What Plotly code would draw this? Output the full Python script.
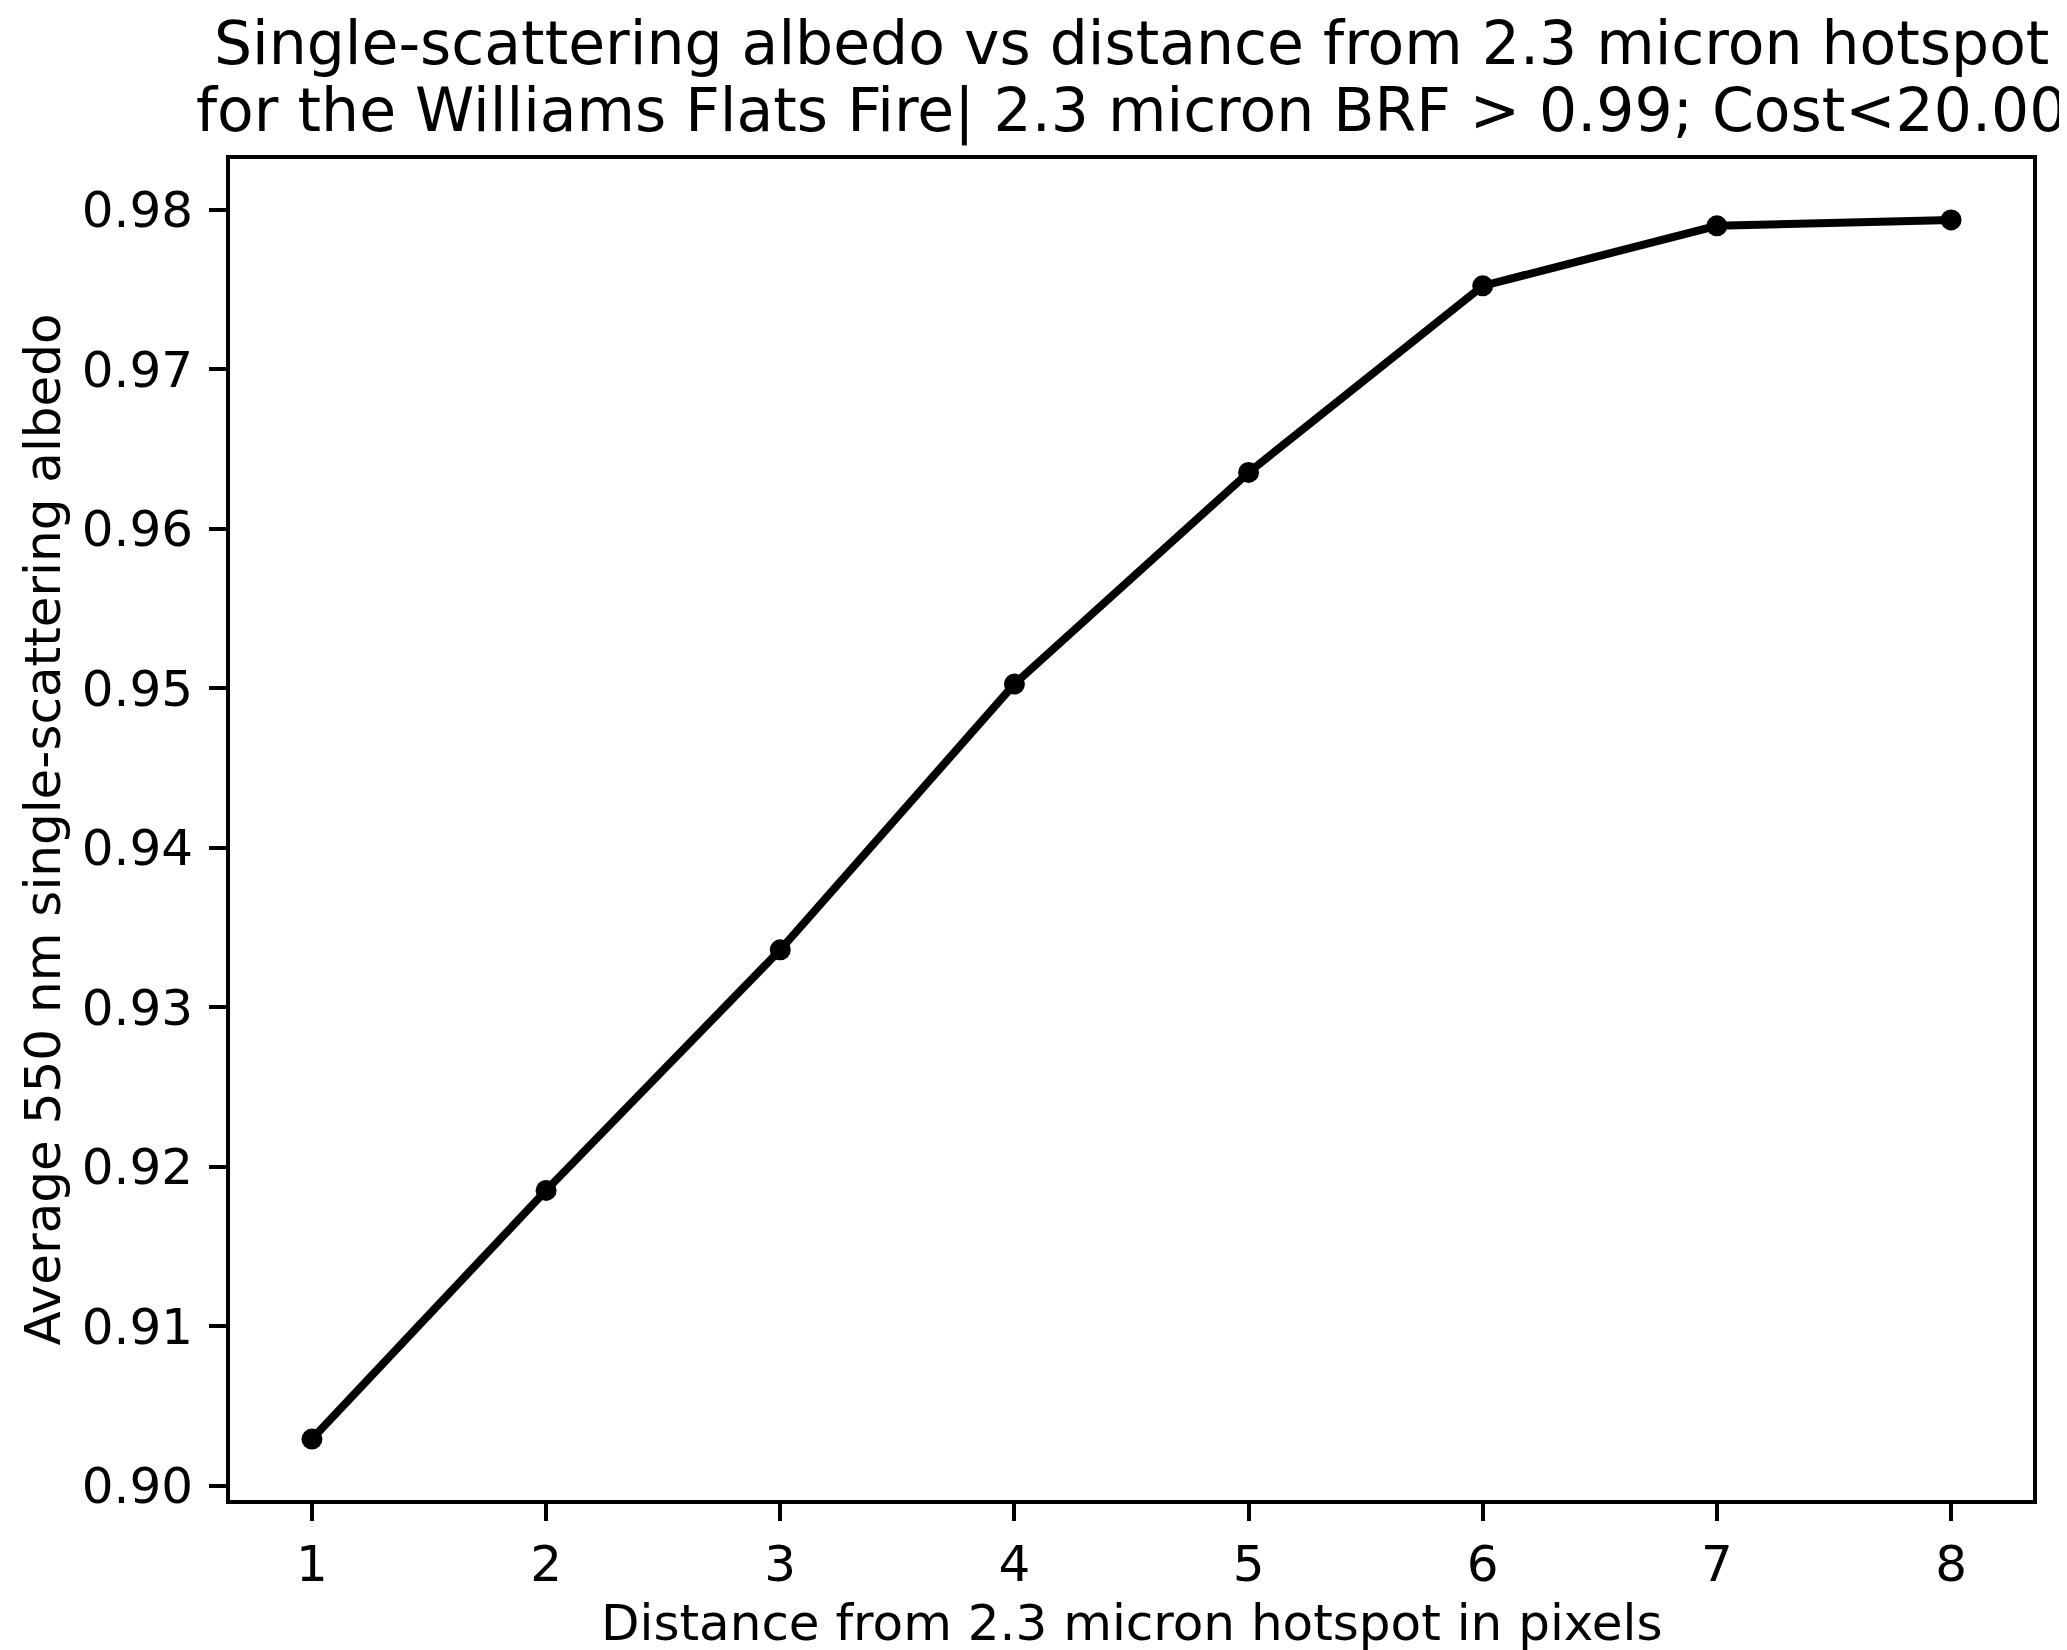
import plotly.graph_objects as go

# Data
distance_px = [1, 2, 3, 4, 5, 6, 7, 8]
avg_ssa_550 = [0.90294, 0.91853, 0.93361, 0.95027, 0.96354, 0.97524, 0.97900, 0.97937]

title_line1 = "Single-scattering albedo vs distance from 2.3 micron hotspot"
title_line2 = "for the Williams Flats Fire| 2.3 micron BRF &gt; 0.99; Cost&lt;20.00"
x_label = "Distance from 2.3 micron hotspot in pixels"
y_label = "Average 550 nm single-scattering albedo"

FONT = "DejaVu Sans"

# matplotlib-like 5% margins
xr = max(distance_px) - min(distance_px)
yr = max(avg_ssa_550) - min(avg_ssa_550)
x_range = [min(distance_px) - 0.05 * xr, max(distance_px) + 0.05 * xr]
y_range = [min(avg_ssa_550) - 0.05 * yr, max(avg_ssa_550) + 0.05 * yr]

fig = go.Figure()
fig.add_trace(go.Scatter(
    x=distance_px, y=avg_ssa_550, mode="lines+markers",
    line=dict(color="black", width=8),
    marker=dict(color="black", size=21),
    showlegend=False, hoverinfo="skip",
))

axis_common = dict(
    showline=True, linecolor="black", linewidth=4, mirror=True,
    ticks="outside", ticklen=17, tickwidth=4, tickcolor="black",
    showgrid=False, zeroline=False,
    tickfont=dict(family=FONT, size=50, color="black"),
)

fig.update_xaxes(range=x_range, tickmode="array", tickvals=distance_px,
                 ticktext=[str(v) for v in distance_px], **axis_common)
fig.update_yaxes(range=y_range, tick0=0.90, dtick=0.01, tickformat=".2f",
                 ticklabelstandoff=6, **axis_common)

PLOT_TOP, PLOT_H, PLOT_L, PLOT_W = 151, 1341, 222, 1803
def py(px):
    return (PLOT_TOP + PLOT_H - px) / PLOT_H
def px_(px):
    return (px - PLOT_L) / PLOT_W

annotations = [
    dict(text=title_line1, x=0.5, y=py(35), xref="paper", yref="paper",
         xanchor="center", yanchor="middle", showarrow=False,
         font=dict(family=FONT, size=60, color="black")),
    dict(text=title_line2, x=0.5, y=py(102), xref="paper", yref="paper",
         xanchor="center", yanchor="middle", showarrow=False,
         font=dict(family=FONT, size=60, color="black")),
    dict(text=x_label, x=0.5, y=py(1615), xref="paper", yref="paper",
         xanchor="center", yanchor="middle", showarrow=False,
         font=dict(family=FONT, size=50, color="black")),
    dict(text=y_label, x=px_(34), y=0.5, xref="paper", yref="paper",
         xanchor="center", yanchor="middle", showarrow=False, textangle=-90,
         font=dict(family=FONT, size=50, color="black")),
]

fig.update_layout(
    width=2067, height=1650,
    margin=dict(l=PLOT_L, r=2067 - PLOT_L - PLOT_W, t=PLOT_TOP,
                b=1650 - PLOT_TOP - PLOT_H, pad=0),
    paper_bgcolor="white", plot_bgcolor="white",
    font=dict(family=FONT, color="black"),
    annotations=annotations,
)

fig.write_html("out.html")
